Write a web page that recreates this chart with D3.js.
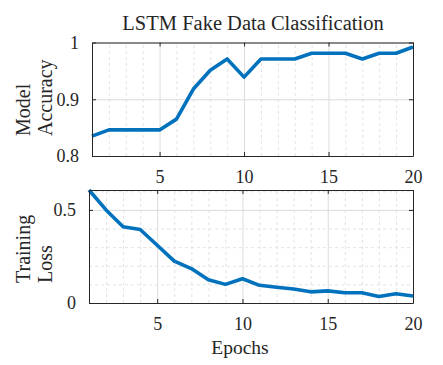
<!DOCTYPE html>
<html>
<head>
<meta charset="utf-8">
<script src="https://cdn.jsdelivr.net/npm/d3@7/dist/d3.min.js"></script>
<style>
body { margin: 0; background: #fff; }
text { font-family: "Liberation Serif", "Times New Roman", serif; fill: #262626; }
.grid line { stroke: #dcdcdc; stroke-width: 1; }
.minor line { stroke: #e3e3e3; stroke-width: 1; stroke-dasharray: 3,3; }
.grid path, .minor path { display: none; }
.ax path, .ax line { stroke: #262626; stroke-width: 1; }
</style>
</head>
<body>
<div class="chart"></div>
<script>
// values
const epochs = d3.range(1, 21);
const accuracy = [0.835, 0.846, 0.846, 0.846, 0.846, 0.865, 0.918, 0.951, 0.971, 0.939,
                  0.971, 0.971, 0.971, 0.981, 0.981, 0.981, 0.971, 0.981, 0.981, 0.992];
const loss = [0.607, 0.50, 0.41, 0.395, 0.31, 0.225, 0.185, 0.125, 0.10, 0.13,
              0.095, 0.085, 0.075, 0.06, 0.065, 0.055, 0.055, 0.035, 0.05, 0.038];
const xTicks = [5, 10, 15, 20];
const accTicks = [0.8, 0.9, 1];
const lossTicks = [0, 0.5];
const lossMinor = [0.1, 0.2, 0.3, 0.4, 0.6];

const w = 443;
const h = 365;

var svg = d3.select(".chart").append("svg")
    .attr("width", w)
    .attr("height", h);

function panel(box, values, yDomain, yTicks, yMinor) {
    var x = d3.scaleLinear().domain([1, 20]).range([box.l, box.r]);
    var y = d3.scaleLinear().domain(yDomain).range([box.b, box.t]);
    var g = svg.append("g");

    // minor grid (dashed)
    g.append("g").attr("class", "minor")
        .attr("transform", "translate(0," + box.b + ")")
        .call(d3.axisBottom(x).tickValues(epochs.filter(d => xTicks.indexOf(d) < 0 && d > 1 && d < 20))
            .tickSize(-(box.b - box.t)).tickFormat(""));
    if (yMinor.length) {
        g.append("g").attr("class", "minor")
            .attr("transform", "translate(" + box.l + ",0)")
            .call(d3.axisLeft(y).tickValues(yMinor).tickSize(-(box.r - box.l)).tickFormat(""));
    }
    // major grid
    g.append("g").attr("class", "grid")
        .attr("transform", "translate(0," + box.b + ")")
        .call(d3.axisBottom(x).tickValues(xTicks).tickSize(-(box.b - box.t)).tickFormat(""));
    g.append("g").attr("class", "grid")
        .attr("transform", "translate(" + box.l + ",0)")
        .call(d3.axisLeft(y).tickValues(yTicks).tickSize(-(box.r - box.l)).tickFormat(""));

    var line = d3.line().x((d, i) => x(epochs[i])).y(d => y(d));
    g.append("path")
        .datum(values)
        .attr("d", line)
        .attr("fill", "none")
        .attr("stroke", "#0072BD")
        .attr("stroke-width", 3.6)
        .attr("stroke-linejoin", "round");

    // box with inward ticks, matlab style
    g.append("g").attr("class", "ax")
        .attr("transform", "translate(0," + box.b + ")")
        .call(d3.axisBottom(x).tickValues(xTicks).tickSizeInner(-4).tickSizeOuter(0).tickPadding(14));
    g.append("g").attr("class", "ax")
        .attr("transform", "translate(0," + box.t + ")")
        .call(d3.axisTop(x).tickValues(xTicks).tickSizeInner(-4).tickSizeOuter(0).tickFormat(""));
    g.append("g").attr("class", "ax")
        .attr("transform", "translate(" + box.l + ",0)")
        .call(d3.axisLeft(y).tickValues(yTicks).tickSizeInner(-4).tickSizeOuter(0).tickPadding(13).tickFormat(d3.format("~g")));
    g.append("g").attr("class", "ax")
        .attr("transform", "translate(" + box.r + ",0)")
        .call(d3.axisRight(y).tickValues(yTicks).tickSizeInner(-4).tickSizeOuter(0).tickFormat(""));

    g.selectAll(".ax")
        .attr("font-family", "Liberation Serif, serif")
        .attr("font-size", 18);
    g.selectAll(".ax .tick text")
        .attr("fill", "#262626");
    return g;
}

panel({l: 92, r: 413, t: 42.5, b: 156}, accuracy, [0.8, 1], accTicks, []);
panel({l: 89, r: 413, t: 190, b: 303}, loss, [0, 0.607], lossTicks, lossMinor);

// title and labels
svg.append("text").attr("x", 253).attr("y", 30).attr("text-anchor", "middle")
    .style("font-size", "20.5px").text("LSTM Fake Data Classification");

function ylabel(txt, cx, y0) {
    svg.append("text").attr("transform", "translate(" + cx + "," + y0 + ") rotate(-90)")
        .attr("text-anchor", "start").attr("dy", "0.35em")
        .style("font-size", "20px").text(txt);
}
ylabel("Model", 23, 136);
ylabel("Accuracy", 45, 136);
ylabel("Training", 23, 283);
ylabel("Loss", 45, 283);

svg.append("text").attr("x", 240).attr("y", 347).attr("text-anchor", "middle").attr("dy", "0.35em")
    .style("font-size", "19.5px").text("Epochs");
</script>
</body>
</html>
